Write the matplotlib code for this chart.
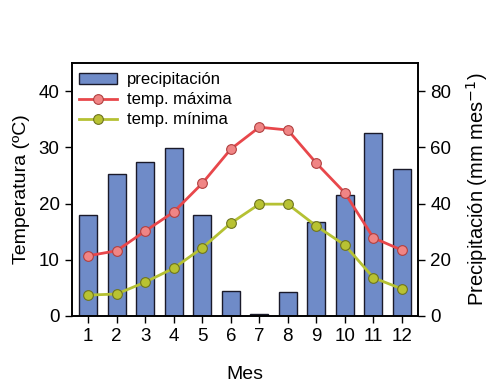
import numpy as np
import matplotlib.pyplot as plt

plt.rcParams['font.family'] = ['Liberation Sans', 'DejaVu Sans']

meses = np.arange(1, 13)
precip = [36, 50.5, 54.8, 59.7, 36, 8.8, 0.7, 8.6, 33.4, 43, 65.3, 52.2]
t_max = [10.7, 11.6, 15.1, 18.5, 23.6, 29.7, 33.6, 33.1, 27.2, 21.9, 13.9, 11.7]
t_min = [3.7, 3.9, 6.0, 8.5, 12.1, 16.5, 19.9, 19.9, 16.0, 12.6, 6.8, 4.8]

fig = plt.figure(figsize=(4.94, 3.9), dpi=100)
ax = fig.add_axes([0.146, 0.190, 0.700, 0.648])
ax2 = ax.twinx()

bars = ax2.bar(meses, precip, width=0.63, color='#6F8BC8', edgecolor='#1a1a2a',
               linewidth=1.0, label='precipitación', zorder=1)
ax2.set_ylim(0, 90)
ax2.set_yticks([0, 20, 40, 60, 80])
ax2.set_ylabel('Precipitación (mm mes$^{\\mathsf{-1}}$)', fontsize=14.5, labelpad=9)

ax.set_zorder(ax2.get_zorder() + 1)
ax.patch.set_visible(False)
l1, = ax.plot(meses, t_max, '-o', color='#E8474B', lw=2, ms=7,
              mfc='#F08585', mec='#B04040', mew=0.8, label='temp. máxima')
l2, = ax.plot(meses, t_min, '-o', color='#B5C133', lw=2, ms=7,
              mfc='#B8C232', mec='#6E7420', mew=0.8, label='temp. mínima')
ax.set_ylim(0, 45)
ax.set_yticks([0, 10, 20, 30, 40])
ax.set_xlim(0.44, 12.56)
ax.set_xticks(meses)
ax.set_xlabel('Mes', fontsize=14, labelpad=15)
ax.set_ylabel('Temperatura (ºC)', fontsize=14, labelpad=6)

for a in (ax, ax2):
    a.tick_params(direction='out', length=5, width=1, labelsize=13.5, pad=4)
    for s in a.spines.values():
        s.set_linewidth(1.2)

ax.legend([bars, l1, l2], ['precipitación', 'temp. máxima', 'temp. mínima'],
          loc='upper left', bbox_to_anchor=(0.0, 0.99), frameon=False,
          fontsize=12, handlelength=2.3, borderaxespad=0.0, borderpad=0.4,
          labelspacing=0.3, handletextpad=0.6)

fig.savefig('out.png', dpi=100)
